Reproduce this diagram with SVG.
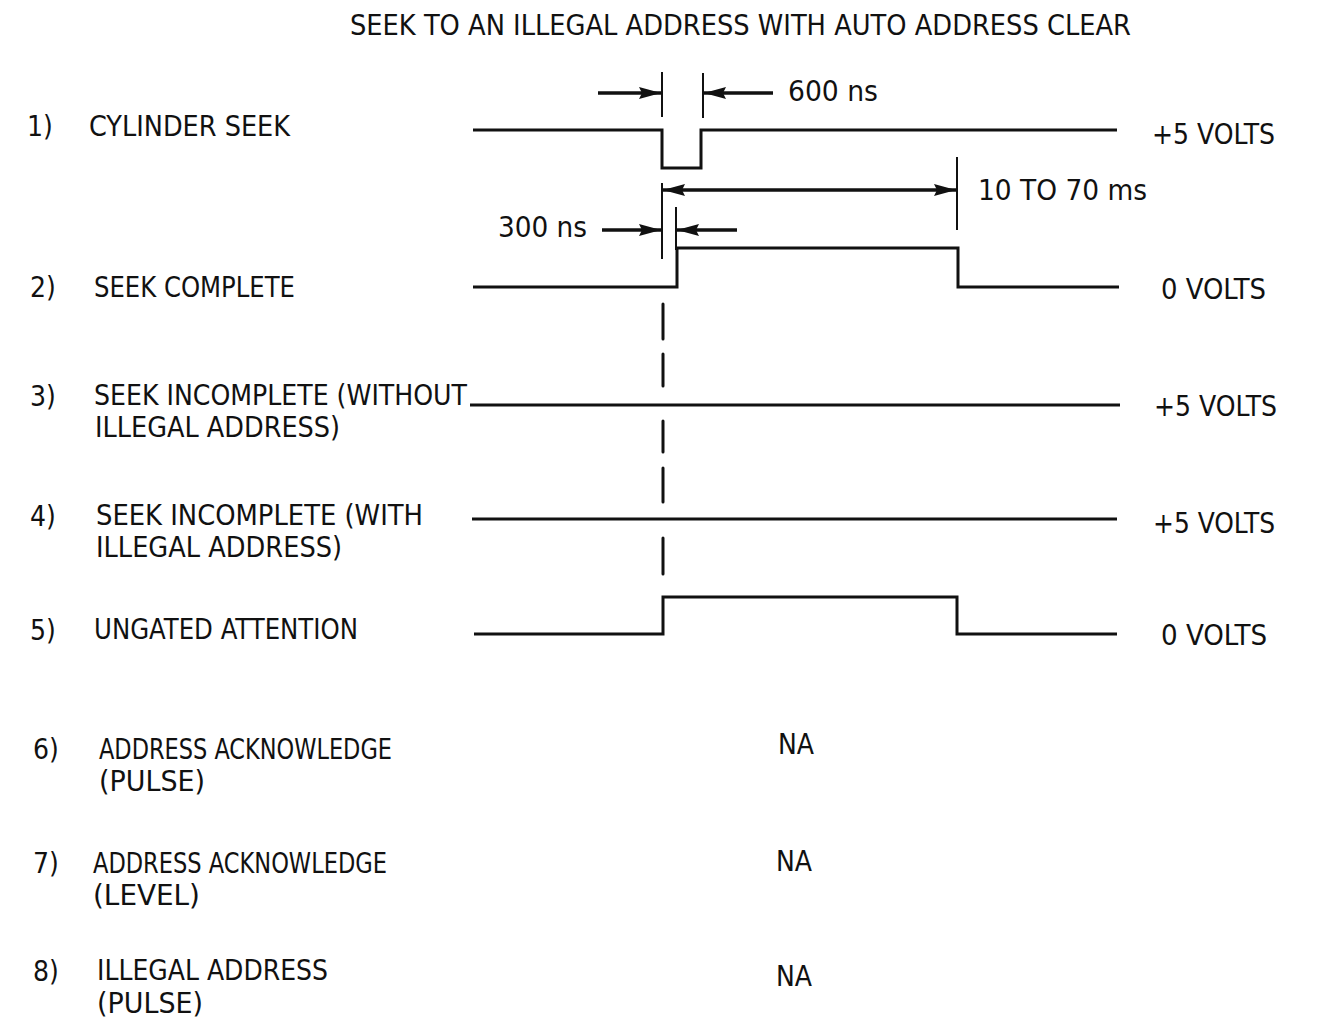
<svg xmlns="http://www.w3.org/2000/svg" width="1320" height="1018" viewBox="0 0 1320 1018">
<style>
text{font-family:"Liberation Sans Narrow","DejaVu Sans Condensed","Liberation Sans",sans-serif;font-size:28px;fill:#111;}
.sig{fill:none;stroke:#111;stroke-width:3;stroke-linejoin:miter;}
.tick{stroke:#111;stroke-width:2;}
.arr{stroke:#111;stroke-width:3.5;marker-end:url(#ah);}
.dash{stroke:#111;stroke-width:3;stroke-linecap:round;}
</style>
<defs>
<marker id="ah" viewBox="0 0 22 12" markerUnits="userSpaceOnUse" markerWidth="22" markerHeight="12" refX="22" refY="6" orient="auto-start-reverse">
<path d="M0,0 L22,6 L0,12 L3,6 z" fill="#111"/>
</marker>
</defs>
<rect width="1320" height="1018" fill="#fff"/>
<text id="title" x="350" y="35" textLength="781" lengthAdjust="spacingAndGlyphs">SEEK TO AN ILLEGAL ADDRESS WITH AUTO ADDRESS CLEAR</text>

<g id="labels">
<g id="sig1-label"><text x="27" y="136">1)</text><text x="89" y="136" textLength="201" lengthAdjust="spacingAndGlyphs">CYLINDER SEEK</text><text x="1152" y="144" textLength="123" lengthAdjust="spacingAndGlyphs">+5 VOLTS</text></g>
<g id="sig2-label"><text x="30" y="297">2)</text><text x="94" y="297" textLength="201" lengthAdjust="spacingAndGlyphs">SEEK COMPLETE</text><text x="1161" y="299" textLength="105" lengthAdjust="spacingAndGlyphs">0 VOLTS</text></g>
<g id="sig3-label"><text x="30" y="406">3)</text><text x="94" y="405" textLength="373" lengthAdjust="spacingAndGlyphs">SEEK INCOMPLETE (WITHOUT</text><text x="95" y="437" textLength="245" lengthAdjust="spacingAndGlyphs">ILLEGAL ADDRESS)</text><text x="1154" y="416" textLength="123" lengthAdjust="spacingAndGlyphs">+5 VOLTS</text></g>
<g id="sig4-label"><text x="30" y="526">4)</text><text x="96" y="525" textLength="327" lengthAdjust="spacingAndGlyphs">SEEK INCOMPLETE (WITH</text><text x="96" y="557" textLength="246" lengthAdjust="spacingAndGlyphs">ILLEGAL ADDRESS)</text><text x="1153" y="533" textLength="122" lengthAdjust="spacingAndGlyphs">+5 VOLTS</text></g>
<g id="sig5-label"><text x="30" y="640">5)</text><text x="94" y="639" textLength="264" lengthAdjust="spacingAndGlyphs">UNGATED ATTENTION</text><text x="1161" y="645" textLength="106" lengthAdjust="spacingAndGlyphs">0 VOLTS</text></g>
<g id="sig6-label"><text x="33" y="759">6)</text><text x="99" y="759" textLength="293" lengthAdjust="spacingAndGlyphs">ADDRESS ACKNOWLEDGE</text><text x="99" y="791" textLength="106" lengthAdjust="spacingAndGlyphs">(PULSE)</text><text x="778" y="754">NA</text></g>
<g id="sig7-label"><text x="33" y="873">7)</text><text x="93" y="873" textLength="294" lengthAdjust="spacingAndGlyphs">ADDRESS ACKNOWLEDGE</text><text x="93" y="905" textLength="107" lengthAdjust="spacingAndGlyphs">(LEVEL)</text><text x="776" y="871">NA</text></g>
<g id="sig8-label"><text x="33" y="981">8)</text><text x="97" y="980" textLength="231" lengthAdjust="spacingAndGlyphs">ILLEGAL ADDRESS</text><text x="97" y="1013" textLength="106" lengthAdjust="spacingAndGlyphs">(PULSE)</text><text x="776" y="986">NA</text></g>
</g>

<g id="signals">
<path id="sig1" class="sig" d="M473,130 H662 V168 H701 V130 H1117"/>
<path id="sig2" class="sig" d="M473,287 H677 V248 H958 V287 H1119"/>
<path id="sig3" class="sig" d="M470,405 H1120"/>
<path id="sig4" class="sig" d="M472,519 H1117"/>
<path id="sig5" class="sig" d="M474,634 H663 V597 H957 V634 H1117"/>
</g>

<g id="timing">
<line class="tick" x1="662" y1="72" x2="662" y2="117"/>
<line class="tick" x1="703" y1="73" x2="703" y2="118"/>
<line class="arr" x1="598" y1="93" x2="661" y2="93"/>
<line class="arr" x1="773" y1="93" x2="704" y2="93"/>
<text x="788" y="101" textLength="90" lengthAdjust="spacingAndGlyphs">600 ns</text>

<line class="tick" x1="662" y1="183" x2="662" y2="259"/>
<line class="tick" x1="957" y1="157" x2="957" y2="230"/>
<line class="arr" x1="663" y1="190" x2="956" y2="190" style="marker-start:url(#ah)"/>
<text x="978" y="200" textLength="169" lengthAdjust="spacingAndGlyphs">10 TO 70 ms</text>

<line class="tick" x1="676" y1="207" x2="676" y2="250"/>
<line class="arr" x1="602" y1="230" x2="661" y2="230"/>
<line class="arr" x1="737" y1="230" x2="677" y2="230"/>
<text x="498" y="237" textLength="89" lengthAdjust="spacingAndGlyphs">300 ns</text>

<g id="dashed-ref">
<line class="dash" x1="663" y1="304" x2="663" y2="339"/>
<line class="dash" x1="663" y1="354" x2="663" y2="386"/>
<line class="dash" x1="663" y1="421" x2="663" y2="452"/>
<line class="dash" x1="663" y1="468" x2="663" y2="502"/>
<line class="dash" x1="663" y1="538" x2="663" y2="574"/>
</g>
</g>
</svg>
